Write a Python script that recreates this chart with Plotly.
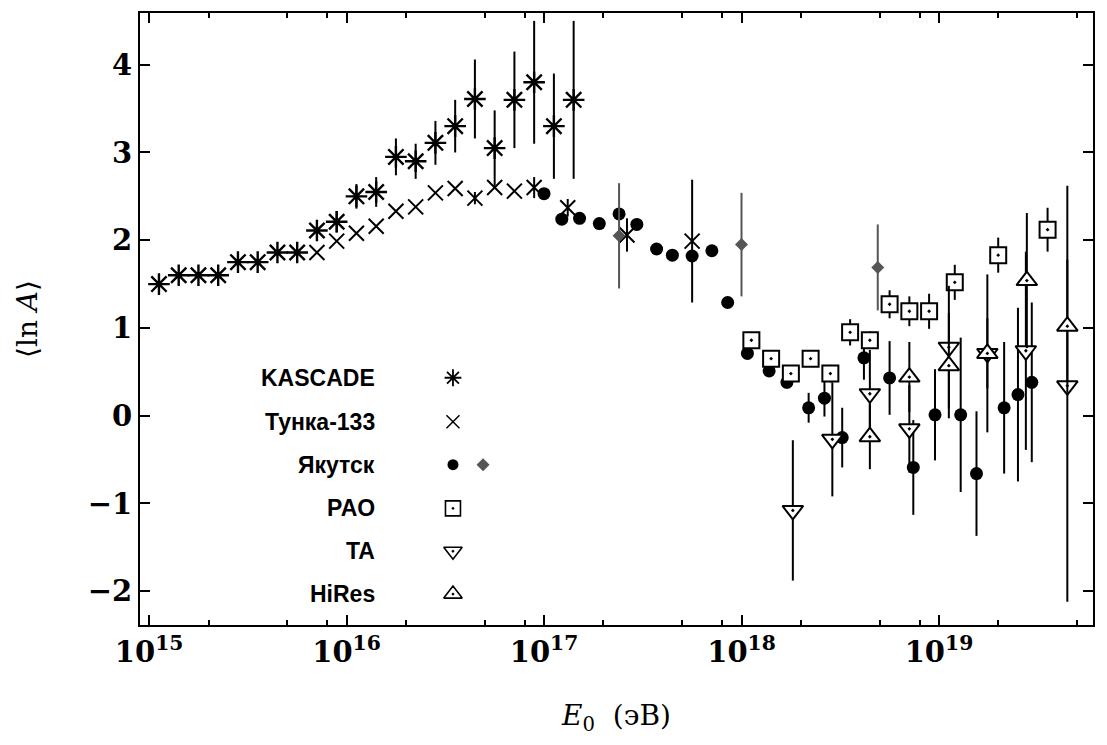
import plotly.graph_objects as go

# ---------------- data (log10 E in eV, <ln A>, error) ----------------
kascade_logE = [15.05, 15.15, 15.25, 15.35, 15.45, 15.55, 15.65, 15.75, 15.85, 15.95, 16.05,
                16.15, 16.25, 16.35, 16.45, 16.55, 16.65, 16.75, 16.85, 16.95, 17.05, 17.15]
kascade_lnA = [1.50, 1.60, 1.60, 1.60, 1.75, 1.75, 1.86, 1.86, 2.11, 2.21, 2.50,
               2.55, 2.95, 2.90, 3.11, 3.30, 3.61, 3.05, 3.60, 3.80, 3.30, 3.60]
kascade_err = [0.0, 0.0, 0.0, 0.0, 0.0, 0.0, 0.0, 0.0, 0.06, 0.12, 0.14,
               0.17, 0.21, 0.20, 0.25, 0.30, 0.45, 0.43, 0.55, 0.70, 0.60, 0.90]

tunka_logE = [15.85, 15.95, 16.05, 16.15, 16.25, 16.35, 16.45, 16.55, 16.65, 16.75, 16.85, 16.95,
              17.12, 17.42, 17.75]
tunka_lnA = [1.86, 1.99, 2.08, 2.16, 2.33, 2.38, 2.54, 2.59, 2.48, 2.60, 2.56, 2.60,
             2.37, 2.06, 1.99]
tunka_err = [0.0, 0.0, 0.0, 0.0, 0.0, 0.0, 0.0, 0.0, 0.07, 0.0, 0.0, 0.12,
             0.10, 0.19, 0.70]

yakutsk_logE = [17.0, 17.09, 17.18, 17.28, 17.38, 17.47, 17.57, 17.65, 17.75, 17.85, 17.93,
                18.03, 18.14, 18.23, 18.34, 18.42, 18.51, 18.62, 18.75, 18.87, 18.98,
                19.11, 19.19, 19.33, 19.40, 19.47]
yakutsk_lnA = [2.53, 2.24, 2.25, 2.19, 2.30, 2.18, 1.90, 1.83, 1.82, 1.88, 1.29,
               0.71, 0.51, 0.38, 0.09, 0.20, -0.25, 0.66, 0.43, -0.59, 0.01,
               0.01, -0.66, 0.09, 0.24, 0.38]
yakutsk_err = [0.0, 0.0, 0.0, 0.0, 0.0, 0.0, 0.0, 0.0, 0.0, 0.0, 0.0,
               0.0, 0.0, 0.07, 0.17, 0.21, 0.34, 0.25, 0.42, 0.54, 0.52,
               0.88, 0.71, 0.75, 0.99, 0.91]

yakutsk2_logE = [17.38, 18.0, 18.69]
yakutsk2_lnA = [2.05, 1.95, 1.69]
yakutsk2_err = [0.60, 0.59, 0.49]

pao_logE = [18.05, 18.15, 18.25, 18.35, 18.45, 18.55, 18.65, 18.75, 18.85, 18.95, 19.08, 19.30, 19.55]
pao_lnA = [0.86, 0.65, 0.48, 0.65, 0.48, 0.95, 0.86, 1.27, 1.19, 1.19, 1.52, 1.83, 2.12]
pao_err = [0.04, 0.04, 0.04, 0.04, 0.10, 0.15, 0.10, 0.16, 0.17, 0.20, 0.20, 0.20, 0.25]

ta_logE = [18.26, 18.46, 18.65, 18.85, 19.05, 19.245, 19.44, 19.65]
ta_lnA = [-1.08, -0.27, 0.25, -0.15, 0.78, 0.71, 0.74, 0.34]
ta_err_plus = [0.80, 0.65, 0.50, 0.50, 0.70, 0.90, 1.13, 2.28]
ta_err_minus = [0.80, 0.65, 0.50, 0.50, 0.70, 0.90, 1.13, 2.46]

hires_logE = [18.65, 18.85, 19.05, 19.245, 19.445, 19.65]
hires_lnA = [-0.24, 0.44, 0.57, 0.71, 1.54, 1.02]
hires_err = [0.37, 0.40, 0.60, 0.40, 0.77, 0.76]

legend_labels = ["KASCADE", "Тунка‑133", "Якутск", "PAO", "TA", "HiRes"]

x_tick_exps = [15, 16, 17, 18, 19]
minor_mults = [2, 5, 8]

# ---------------- figure ----------------
SERIF = "DejaVu Serif"
SANS = "Liberation Sans"
X_RANGE = [14.954, 19.78]


def E(logs):
    return [10.0 ** v for v in logs]


fig = go.Figure()


def add_series(name, xs, ys, err, symbol, size, color="black", fill="white",
               lw=2.0, err_minus=None, ecolor="black"):
    ey = dict(type="data", array=err, visible=True, color=ecolor, thickness=2, width=0)
    if err_minus is not None:
        ey["symmetric"] = False
        ey["arrayminus"] = err_minus
    fig.add_trace(go.Scatter(
        x=E(xs), y=ys, mode="markers", name=name, showlegend=False,
        marker=dict(symbol=symbol, size=size, color=fill,
                    line=dict(color=color, width=lw)),
        error_y=ey,
    ))


add_series("KASCADE", kascade_logE, kascade_lnA, kascade_err, "asterisk-open", 18, fill="black", lw=2.4)
add_series("Тунка-133", tunka_logE, tunka_lnA, tunka_err, "x-thin-open", 15, fill="black", lw=2.0)
add_series("Якутск", yakutsk_logE, yakutsk_lnA, yakutsk_err, "circle", 13, fill="black", lw=0)
add_series("Якутск2", yakutsk2_logE, yakutsk2_lnA, yakutsk2_err, "diamond", 10,
           color="#555555", fill="#555555", lw=0, ecolor="#555555")
add_series("PAO", pao_logE, pao_lnA, pao_err, "square-dot", 16)
add_series("TA", ta_logE, ta_lnA, ta_err_plus, "triangle-down-dot", 18, err_minus=ta_err_minus)
add_series("HiRes", hires_logE, hires_lnA, hires_err, "triangle-up-dot", 18)

# ---------------- custom legend (text left, symbol right) ----------------
leg_y = [0.404, 0.332, 0.262, 0.1906, 0.1205, 0.0505]
leg_sym_x = 0.3284
leg_sym2_x = 0.360
leg_text_x = 0.2487
leg_styles = [
    dict(symbol="asterisk-open", size=14, color="black", line=dict(color="black", width=1.8)),
    dict(symbol="x-thin-open", size=13, color="black", line=dict(color="black", width=1.5)),
    dict(symbol="circle", size=11, color="black", line=dict(width=0)),
    dict(symbol="square-dot", size=15, color="white", line=dict(color="black", width=1.6)),
    dict(symbol="triangle-down-dot", size=16, color="white", line=dict(color="black", width=1.6)),
    dict(symbol="triangle-up-dot", size=16, color="white", line=dict(color="black", width=1.6)),
]
for i, (lab, yy, st) in enumerate(zip(legend_labels, leg_y, leg_styles)):
    fig.add_trace(go.Scatter(x=[leg_sym_x], y=[yy], mode="markers", marker=st,
                             xaxis="x2", yaxis="y2", showlegend=False, hoverinfo="skip"))
    fig.add_annotation(x=leg_text_x, y=yy, xref="x2", yref="y2", text="<b>%s</b>" % lab,
                       showarrow=False, xanchor="right", yanchor="middle",
                       font=dict(family=SANS, size=23, color="black"))
fig.add_trace(go.Scatter(x=[leg_sym2_x], y=[leg_y[2]], mode="markers",
                         marker=dict(symbol="diamond", size=10, color="#555555", line=dict(width=0)),
                         xaxis="x2", yaxis="y2", showlegend=False, hoverinfo="skip"))

major_vals = [10.0 ** e for e in x_tick_exps]
major_text = ["<b>10<sup>%d</sup></b>" % e for e in x_tick_exps]
minor_vals = [m * 10.0 ** e for e in range(14, 20) for m in minor_mults]

# invisible trace on the minor-tick axis so it renders
fig.add_trace(go.Scatter(x=[major_vals[0]], y=[0], mode="markers", marker=dict(opacity=0),
                         xaxis="x3", yaxis="y", showlegend=False, hoverinfo="skip"))

fig.update_layout(
    width=1107, height=745,
    margin=dict(l=140, r=14, t=11, b=120),
    paper_bgcolor="white", plot_bgcolor="white",
    showlegend=False,
    xaxis=dict(
        type="log", range=X_RANGE,
        tickmode="array", tickvals=major_vals, ticktext=major_text,
        ticks="inside", ticklen=10, tickwidth=1.5, tickcolor="black",
        showgrid=False, zeroline=False,
        showline=True, linecolor="black", linewidth=2, mirror="ticks",
        tickfont=dict(family=SERIF, size=29, color="black"),
        title=dict(text="<i>E</i><sub>0</sub>  (эВ)", standoff=38,
                   font=dict(family=SERIF, size=28, color="black")),
    ),
    xaxis3=dict(
        type="log", range=X_RANGE, overlaying="x", anchor="y", side="bottom",
        tickmode="array", tickvals=minor_vals, showticklabels=False,
        ticks="inside", ticklen=5, tickwidth=1.5, tickcolor="black",
        showgrid=False, zeroline=False, showline=False, mirror="ticks", fixedrange=True,
    ),
    yaxis=dict(
        range=[-2.386, 4.59],
        tickmode="array", tickvals=[-2, -1, 0, 1, 2, 3, 4],
        ticks="inside", ticklen=10, tickwidth=1.5, tickcolor="black",
        showgrid=False, zeroline=False,
        showline=True, linecolor="black", linewidth=2, mirror="ticks",
        tickfont=dict(family=SERIF, size=29, color="black", weight="bold"),
        title=dict(text="⟨ln <i>A</i>⟩", standoff=42,
                   font=dict(family=SERIF, size=28, color="black")),
    ),
    xaxis2=dict(domain=[0, 1], range=[0, 1], overlaying="x", visible=False, fixedrange=True),
    yaxis2=dict(domain=[0, 1], range=[0, 1], overlaying="y", visible=False, fixedrange=True,
                anchor="x2"),
)

fig.write_html("out.html")
